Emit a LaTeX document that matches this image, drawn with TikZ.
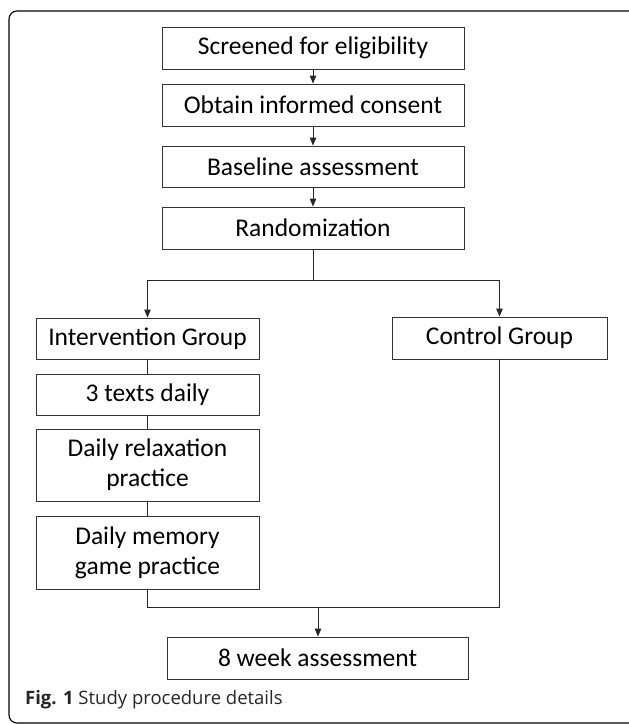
\documentclass[tikz,border=0pt]{standalone}
\usepackage{fontspec}
\setmainfont{Carlito}
\newfontfamily\capfont{Open Sans}
\usepackage{tikz}
\usetikzlibrary{arrows.meta}
\tikzset{box/.style={draw=black!80, line width=0.9pt, inner sep=0pt, align=center,
   font=\fontsize{25.5}{30}\selectfont},
 link/.style={draw=black!85, line width=0.9pt},
 arr/.style={link, -{Triangle[length=8pt,width=6.5pt]}},
 }

\begin{document}
\begin{tikzpicture}[x=1pt,y=-1pt]
        \useasboundingbox (0,0) rectangle (629,724);
        \clip (0,0) rectangle (629,724);
        \draw[line width=1.1pt, rounded corners=8pt] (9,11) rectangle (640,723);
        \node[box, minimum width=302pt, minimum height=42pt] (screen) at (313,48) {Screened for eligibility};
        \node[box, minimum width=302pt, minimum height=42pt] (consent) at (313,105) {Obtain informed consent};
        \node[box, minimum width=302pt, minimum height=41pt] (baseline) at (313,166.5) {Baseline assessment};
        \node[box, minimum width=302pt, minimum height=42pt] (random) at (313,228) {Randomization};
        \node[box, minimum width=223pt, minimum height=41pt] (interv) at (147.5,338.5) {Intervention Group};
        \node[box, minimum width=215pt, minimum height=42pt] (control) at (499.5,338) {Control Group};
        \node[box, minimum width=223pt, minimum height=41pt] (texts) at (147.5,394.5) {3 texts daily};
        \node[box, minimum width=223pt, minimum height=72pt] (relax) at (147.5,465) {Daily relaxation\\practice};
        \node[box, minimum width=223pt, minimum height=73pt] (memory) at (147.5,552.5) {Daily memory\\game practice};
        \node[box, minimum width=301pt, minimum height=42pt] (weekeight) at (317.5,658) {8 week assessment};
        \coordinate (split) at (313,280);
        \coordinate (join) at (318,607);
        \draw[arr] (screen) -- (consent);
        \draw[arr] (consent) -- (baseline);
        \draw[arr] (baseline) -- (random);
        \draw[link] (random) -- (split);
        \draw[arr] (split) -| (interv);
        \draw[arr] (split) -| (control);
        \draw[link] (interv) -- (texts);
        \draw[link] (texts) -- (relax);
        \draw[link] (relax) -- (memory);
        \draw[link] (memory) |- (join);
        \draw[link] (control) |- (join);
        \draw[arr] (join) -- (join |- weekeight.north);
        \node[anchor=base west, inner sep=0pt, text=black!85, font=\capfont\fontsize{18.5}{20}\selectfont] (caption) at (25,704) {\textbf{Fig. 1} Study procedure details};
\end{tikzpicture}
\end{document}
